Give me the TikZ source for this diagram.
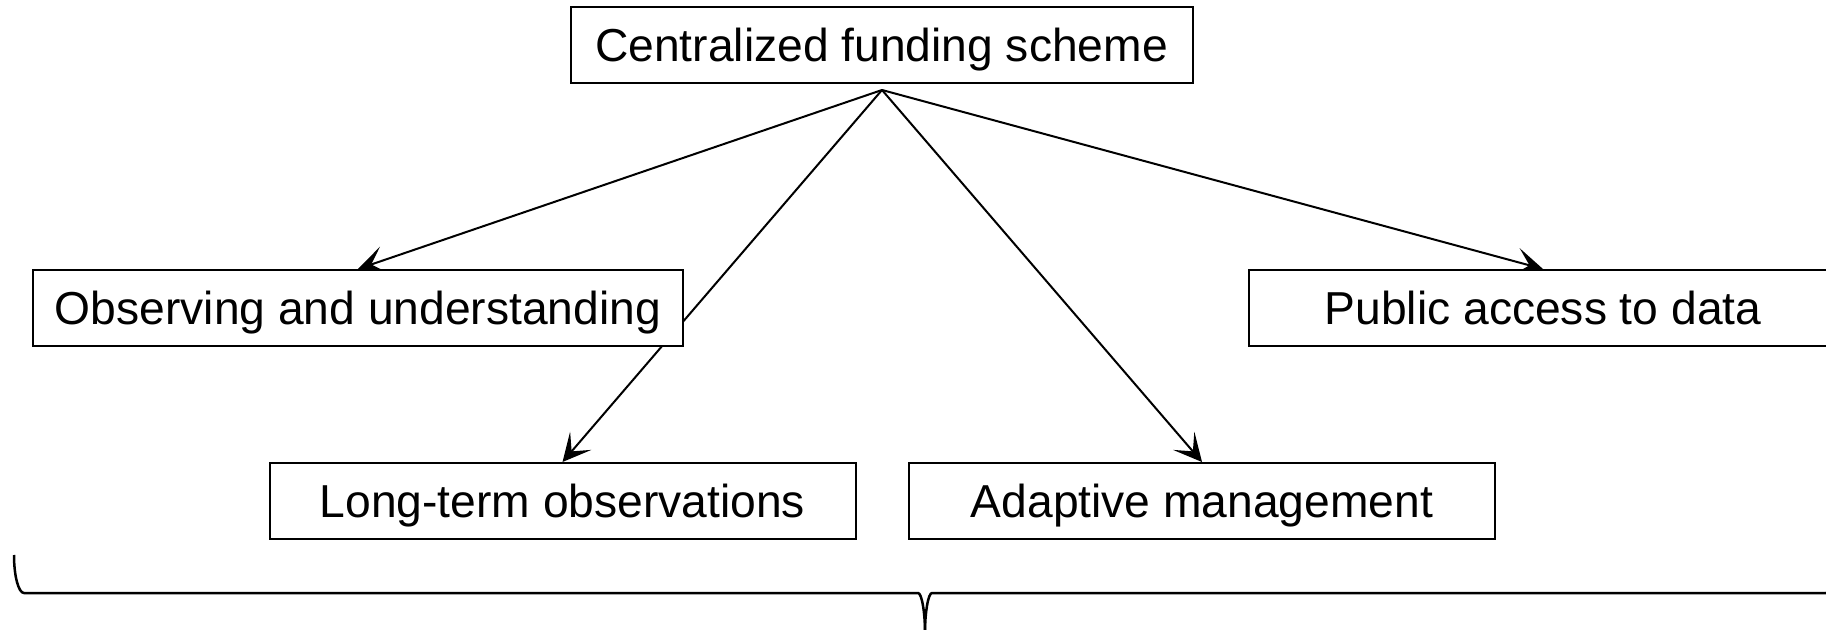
\documentclass[tikz,border=0pt]{standalone}
\usepackage{fontspec}
\setmainfont{Liberation Sans}
\usetikzlibrary{arrows.meta,backgrounds}
\begin{document}
\begin{tikzpicture}[x=0.5pt,y=-0.5pt,
  box/.style={draw=black,line width=1pt,fill=white,inner sep=0pt,
    text height=16.5pt,text depth=0pt,minimum height=38pt,
    font=\fontsize{23.1pt}{28pt}\selectfont},
  link/.style={draw=black,line width=1pt,-{Stealth[length=14pt,width=14pt,inset=7pt]}},
  bracestyle/.style={draw=black,line width=1.25pt}]
\useasboundingbox (0,0) rectangle (1826,630);
\clip (0,0) rectangle (1826,630);
\node[box,minimum width=311pt] (top) at (881.5,45.5) {Centralized funding scheme};
\node[box,minimum width=325pt] (obs) at (358,308) {Observing and understanding};
\node[box,minimum width=294pt] (pub) at (1543,308) {Public access to data};
\node[box,minimum width=293pt] (lt) at (562.5,501) {Long-term observations};
\node[box,minimum width=293pt] (ad) at (1202,501) {Adaptive management};
\coordinate (hub) at (882,90);
\begin{scope}[on background layer]
\draw[link] (hub) -- (obs.north);
\draw[link] (hub) -- (lt.north);
\draw[link] (hub) -- (ad.north);
\draw[link] (hub) -- (pub.north);
\end{scope}
\draw[bracestyle] (14,555) .. controls (14,576) and (18.5,593) .. (24,593)
  -- (918,593) .. controls (921.9,593) and (925,613.4) .. (925,632);
\draw[bracestyle] (1836,555) .. controls (1836,576) and (1831.5,593) .. (1826,593)
  -- (932,593) .. controls (928.1,593) and (925,613.4) .. (925,632);
\end{tikzpicture}
\end{document}
